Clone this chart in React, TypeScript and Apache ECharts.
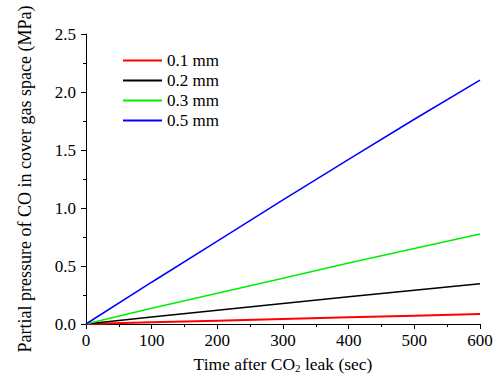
import React, { useEffect, useRef } from "react";
import * as echarts from "echarts";

const times = [0, 100, 200, 300, 400, 500, 600];
const seriesNames = ["0.1 mm", "0.2 mm", "0.3 mm", "0.5 mm"];
const s01 = [0, 0.015, 0.029, 0.043, 0.058, 0.072, 0.086];
const s02 = [0, 0.06, 0.118, 0.176, 0.234, 0.29, 0.347];
const s03 = [0, 0.135, 0.265, 0.395, 0.525, 0.65, 0.776];
const s05 = [0, 0.36, 0.715, 1.07, 1.42, 1.765, 2.103];
const colors = ["#ff0000", "#000000", "#00ee00", "#0000ff"];

const FONT = "'Liberation Serif', 'Times New Roman', serif";

export default function App() {
  const ref = useRef<HTMLDivElement>(null);
  useEffect(() => {
    if (!ref.current) return;
    const chart = echarts.init(ref.current, undefined, { renderer: "svg" });
    const all = [s01, s02, s03, s05];
    chart.setOption({
      animation: false,
      backgroundColor: "#ffffff",
      textStyle: { fontFamily: FONT },
      grid: { left: 86, right: 20, top: 34, bottom: 62 },
      legend: {
        orient: "vertical",
        left: 118,
        top: 47,
        itemWidth: 39,
        itemHeight: 2,
        itemGap: 3,
        icon: "rect",
        textStyle: { fontFamily: FONT, fontSize: 17, color: "#000" },
        data: seriesNames,
      },
      xAxis: {
        type: "value",
        min: 0,
        max: 600,
        interval: 100,
        name: "Time after CO{sub|2} leak (sec)",
        nameLocation: "middle",
        nameGap: 30,
        nameTextStyle: {
          fontFamily: FONT,
          fontSize: 17.5,
          color: "#000",
          rich: {
            sub: { fontFamily: FONT, fontSize: 11, color: "#000", verticalAlign: "bottom", padding: [8, 0, 0, 0] },
          },
        },
        axisLine: { show: true, lineStyle: { color: "#000", width: 1 } },
        axisTick: { show: true, inside: false, length: 5, lineStyle: { color: "#000" } },
        minorTick: { show: true, splitNumber: 2, length: 3, lineStyle: { color: "#000" } },
        splitLine: { show: false },
        axisLabel: { fontFamily: FONT, fontSize: 17, color: "#000", margin: 8 },
      },
      yAxis: {
        type: "value",
        min: 0,
        max: 2.5,
        interval: 0.5,
        name: "Partial pressure of CO in cover gas space (MPa)",
        nameLocation: "middle",
        nameGap: 52,
        nameTextStyle: { fontFamily: FONT, fontSize: 18, color: "#000" },
        axisLine: { show: true, lineStyle: { color: "#000", width: 1 } },
        axisTick: { show: true, inside: false, length: 5, lineStyle: { color: "#000" } },
        minorTick: { show: true, splitNumber: 2, length: 3, lineStyle: { color: "#000" } },
        splitLine: { show: false },
        axisLabel: {
          fontFamily: FONT,
          fontSize: 17,
          color: "#000",
          margin: 10,
          formatter: (v: number) => v.toFixed(1),
        },
      },
      series: seriesNames.map((n, i) => ({
        name: n,
        type: "line",
        symbol: "none",
        showSymbol: false,
        data: times.map((t, j) => [t, all[i][j]]),
        lineStyle: { color: colors[i], width: i === 0 ? 2 : 1.5 },
        itemStyle: { color: colors[i] },
      })),
    });
    return () => chart.dispose();
  }, []);
  return (
    <div style={{ position: "fixed", left: 0, top: 0 }}>
      <div ref={ref} style={{ width: 500, height: 386 }} />
    </div>
  );
}
